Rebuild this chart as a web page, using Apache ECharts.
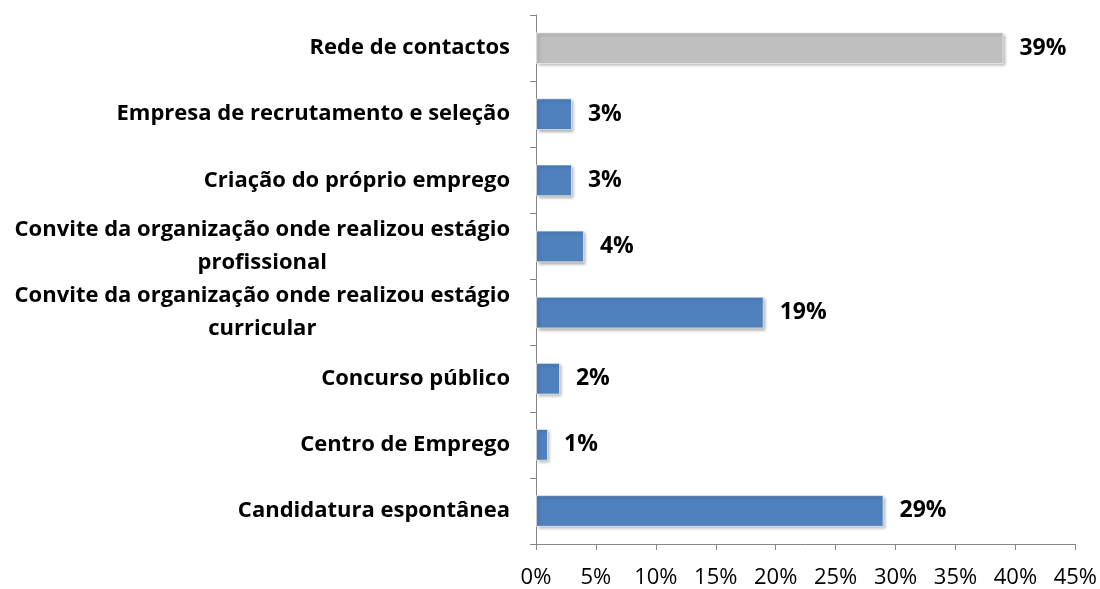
<!DOCTYPE html>
<html>
<head>
<meta charset="utf-8">
<script src="https://cdn.jsdelivr.net/npm/echarts@6/dist/echarts.min.js"></script>
<style>html,body{margin:0;padding:0;background:#fff}#c{width:1100px;height:589px}</style>
</head>
<body>
<div id="c"></div>
<script>
var categories = [
  'Candidatura espontânea',
  'Centro de Emprego',
  'Concurso público',
  'Convite da organização onde realizou estágio\ncurricular',
  'Convite da organização onde realizou estágio\nprofissional',
  'Criação do próprio emprego',
  'Empresa de recrutamento e seleção',
  'Rede de contactos'
];
var values = [29, 1, 2, 19, 4, 3, 3, 39];
var highlightCategory = 'Rede de contactos';

var FONT = '"Open Sans", sans-serif';
var chart = echarts.init(document.getElementById('c'));
chart.setOption({
  animation: false,
  grid: { left: 536, right: 24, top: 15, bottom: 44, containLabel: false },
  xAxis: {
    type: 'value', min: 0, max: 45, interval: 5,
    axisLine: { show: true, lineStyle: { color: '#868686', width: 1 } },
    axisTick: { show: true, length: 6, lineStyle: { color: '#868686' } },
    splitLine: { show: false },
    axisLabel: { formatter: '{value}%', color: '#000', fontSize: 22, fontFamily: FONT, margin: 23 }
  },
  yAxis: {
    type: 'category', data: categories,
    axisLine: { show: true, lineStyle: { color: '#868686', width: 1 } },
    axisTick: { show: true, length: 6, lineStyle: { color: '#868686' } },
    axisLabel: {
      color: '#000', fontSize: 22, fontWeight: 'bold', fontFamily: FONT, margin: 26, lineHeight: 33,
      formatter: function (v) {
        var parts = v.split('\n');
        if (parts.length === 1) return '{a|' + v + '}';
        return '{a|' + parts[0] + '}\n{c|' + parts[1] + '}';
      },
      rich: {
        a: { fontSize: 22, fontWeight: 'bold', fontFamily: FONT, color: '#000', lineHeight: 33 },
        c: { fontSize: 22, fontWeight: 'bold', fontFamily: FONT, color: '#000', lineHeight: 33, align: 'center' }
      }
    }
  },
  series: [{
    type: 'bar',
    data: values,
    barCategoryGap: '52%',
    itemStyle: {
      color: function (p) { return p.name === highlightCategory ? '#BFBFBF' : '#4F81BD'; },
      borderColor: 'rgba(255,255,255,0.6)', borderWidth: 1,
      shadowColor: 'rgba(0,0,0,0.35)', shadowBlur: 3, shadowOffsetX: 2, shadowOffsetY: 2
    },
    label: {
      show: true, position: 'right', distance: 16, formatter: '{c}%',
      color: '#000', fontSize: 23, fontWeight: 'bold', fontFamily: FONT
    }
  }]
});
</script>
</body>
</html>
